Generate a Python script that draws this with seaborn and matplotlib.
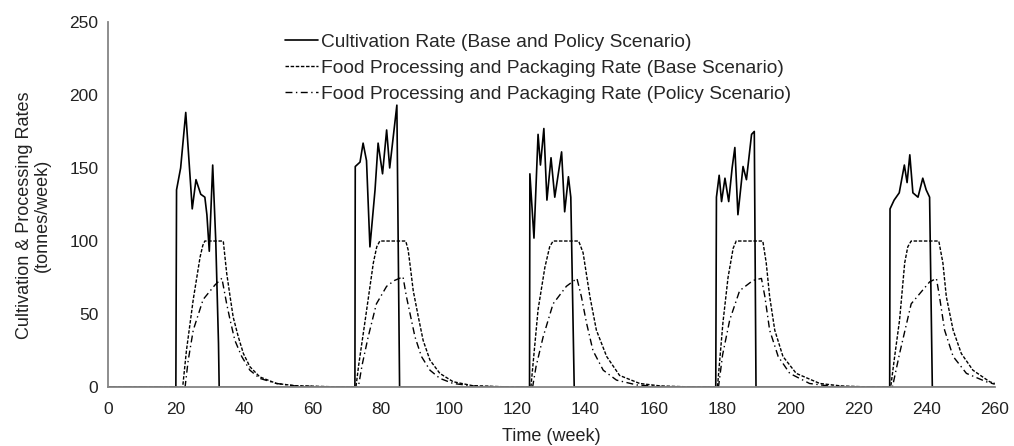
import pandas as pd
import matplotlib
matplotlib.use("Agg")
import matplotlib.pyplot as plt
import seaborn as sns

# Cultivation rate (base and policy scenario)
cult_weeks = [0, 19.9, 20.1, 21.3, 22.8, 24.7, 25.8, 27.2, 28.4, 29.0, 29.7, 30.7, 31.6, 32.4, 32.6,
              72.4, 72.5, 73.9, 74.8, 75.8, 76.8, 78.3, 79.2, 80.5, 81.7, 82.6, 84.7, 85.5,
              123.6, 123.7, 124.9, 126.1, 126.8, 127.8, 128.7, 129.9, 131.0, 133.0, 133.9, 135.0, 135.7, 136.7,
              178.2, 178.4, 179.2, 179.9, 180.9, 182.0, 183.0, 183.8, 184.7, 186.2, 187.2, 188.7, 189.5, 190.0,
              229.2, 229.3, 230.5, 232.0, 233.5, 234.3, 235.1, 236.0, 237.5, 238.9, 239.9, 240.9, 241.7, 260]
cult_vals = [0, 0, 135, 150, 188, 122, 142, 132, 130, 118, 93, 152, 100, 30, 0,
             0, 151, 154, 167, 155, 96, 135, 167, 146, 176, 150, 193, 0,
             0, 146, 102, 173, 152, 177, 128, 157, 130, 161, 120, 144, 130, 0,
             0, 130, 145, 127, 143, 127, 150, 164, 118, 151, 142, 173, 175, 0,
             0, 122, 128, 133, 152, 140, 159, 133, 130, 143, 135, 130, 0, 0]

# Food processing and packaging rate, base scenario
base_weeks = [0, 21.9, 23.0, 25.0, 27.0, 27.8, 28.4, 33.8, 34.8, 35.8, 36.7, 38.2, 39.7, 41.6, 44.5, 49.4, 54.8, 66.5,
              72.7, 73.5, 75.3, 77.8, 78.8, 79.7, 87.3, 88.0, 88.5, 89.5, 91.0, 92.4, 94.4, 97.3, 101.2, 106.9, 116.6,
              124.0, 126.1, 128.1, 129.5, 130.5, 138.0, 139.3, 141.3, 143.2, 146.2, 150.0, 155.9, 162.0, 170.0,
              178.7, 180.3, 181.8, 183.3, 184.2, 192.0, 193.0, 194.0, 195.5, 197.9, 201.8, 208.7, 215.0, 222.0,
              229.5, 230.6, 232.1, 233.6, 234.5, 235.5, 243.6, 244.8, 245.8, 247.8, 250.2, 253.6, 258.5, 260]
base_vals = [0, 0, 25, 60, 89, 97, 100, 100, 78, 62, 48, 34.5, 23, 14, 7, 2.5, 1, 0.2,
             0, 15, 44, 85, 96, 100, 100, 94, 85, 66, 48, 32, 18.5, 9.4, 3.7, 1, 0.2,
             0, 53, 82, 96, 100, 100, 92, 62, 39, 21, 8, 2.5, 0.8, 0.2,
             0, 44, 75, 95, 100, 100, 85, 62, 39, 21, 9.4, 2.5, 0.8, 0.2,
             0, 20, 46, 85, 96, 100, 100, 85, 62, 39, 23, 11.6, 3.7, 2.5]

# Food processing and packaging rate, policy scenario
policy_weeks = [0, 22.6, 23.5, 25.0, 27.9, 31.4, 33.4, 34.8, 35.8, 37.2, 39.2, 41.6, 44.5, 49.4, 55.0, 65.0,
                73.4, 74.5, 76.3, 78.7, 81.7, 84.0, 86.5, 87.5, 88.5, 90.0, 91.9, 94.4, 97.3, 101.2, 107.0, 115.0,
                124.5, 125.5, 127.6, 130.5, 134.4, 137.5, 138.8, 140.3, 142.2, 145.2, 149.1, 155.0, 162.0, 170.0,
                179.0, 180.2, 182.3, 185.2, 189.1, 191.6, 192.6, 194.0, 196.5, 199.9, 205.7, 212.0, 220.0,
                230.0, 232.1, 235.5, 240.9, 242.9, 243.8, 245.3, 247.8, 251.7, 257.5, 260]
policy_vals = [0, 0, 18, 39, 60, 70, 74.5, 57, 46, 32, 21, 11.6, 6, 2.5, 0.8, 0.1,
               0, 15, 34.5, 57, 69, 73, 75.5, 62, 51, 34.5, 21, 11.6, 6, 2.5, 0.8, 0.1,
               0, 14, 34.5, 57, 69, 74.4, 62, 44, 25, 11.6, 4.8, 1.5, 0.4, 0.1,
               0, 22, 46, 66, 73, 74.4, 62, 39, 21, 9.4, 2.5, 0.6, 0.1,
               0, 23, 57, 72, 74.4, 62, 39, 21, 9.4, 3.7, 2]

x_ticks = list(range(0, 261, 20))
y_ticks = [0, 50, 100, 150, 200, 250]

sns.set_style("white")
plt.rcParams["font.family"] = ["Liberation Sans", "DejaVu Sans"]

fig = plt.figure(figsize=(10.14, 4.46), dpi=100)
ax = fig.add_axes([0.1065, 0.132, 0.8745, 0.819])

sns.lineplot(x=cult_weeks, y=cult_vals, ax=ax, estimator=None, sort=False,
             color="black", linewidth=1.2, solid_joinstyle="round",
             label="Cultivation Rate (Base and Policy Scenario)")
sns.lineplot(x=base_weeks, y=base_vals, ax=ax, estimator=None, sort=False,
             color="black", linewidth=1.0, linestyle=(0, (2.5, 1.2)),
             label="Food Processing and Packaging Rate (Base Scenario)")
sns.lineplot(x=policy_weeks, y=policy_vals, ax=ax, estimator=None, sort=False,
             color="black", linewidth=1.0, linestyle=(0, (5, 2.5, 1, 2.5)),
             label="Food Processing and Packaging Rate (Policy Scenario)")

ax.set_xlim(0, 260)
ax.set_ylim(0, 250)
ax.set_xticks(x_ticks)
ax.set_yticks(y_ticks)
ax.tick_params(axis="x", length=0, labelsize=12.5, colors="#222222", pad=11)
ax.tick_params(axis="y", length=0, labelsize=12.5, colors="#222222", pad=7)
ax.set_xlabel("Time (week)", fontsize=13, color="#222222")
ax.set_ylabel("Cultivation & Processing Rates\n(tonnes/week)", fontsize=13, color="#222222",
              linespacing=1.1)
ax.xaxis.set_label_coords(0.5, -0.112)
ax.yaxis.set_label_coords(-0.064, 0.471)

for side in ["top", "right"]:
    ax.spines[side].set_visible(False)
for side in ["left", "bottom"]:
    ax.spines[side].set_color("#858585")
    ax.spines[side].set_linewidth(1.3)

ax.legend(loc="upper left", bbox_to_anchor=(0.1995, 0.968), frameon=False, fontsize=13.8,
          handlelength=1.75, handletextpad=0.15, labelspacing=0.45, borderpad=0, borderaxespad=0)

fig.savefig("out.png", dpi=100)
